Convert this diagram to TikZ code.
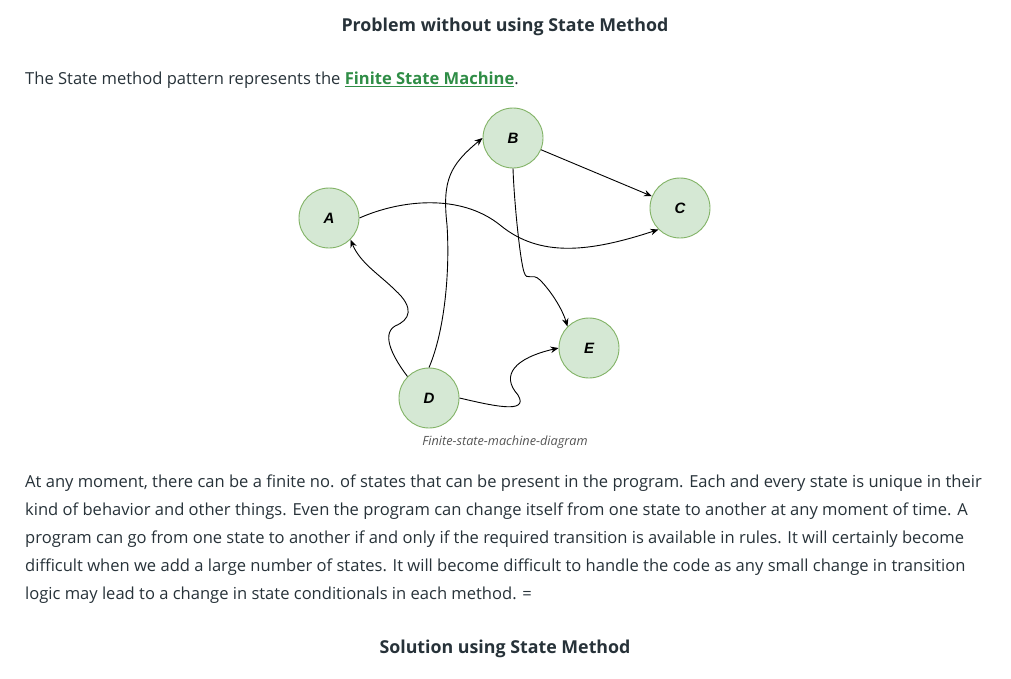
\documentclass[tikz,border=0pt]{standalone}
\usepackage{fontspec}
\setmainfont{Open Sans}
\setsansfont{Liberation Sans}
\usetikzlibrary{arrows.meta}
\definecolor{txt}{HTML}{273239}
\definecolor{lnk}{HTML}{2F8D46}
\definecolor{sfill}{HTML}{D5E8D4}
\definecolor{sdraw}{HTML}{82B366}
\definecolor{cap}{HTML}{555555}
\begin{document}
\begin{tikzpicture}[x=1pt,y=-1pt,
  statenode/.style={circle,draw=sdraw,fill=sfill,line width=0.9pt,minimum size=60pt,inner sep=0pt,
    font=\sffamily\bfseries\itshape\fontsize{15}{17}\selectfont},
  edge/.style={line width=0.9pt,-{Stealth[length=8pt,width=6.5pt]}},
  bodytext/.style={anchor=west,inner sep=0pt,text=txt,font=\fontsize{16.55}{19}\selectfont},
  headtext/.style={anchor=center,inner sep=0pt,text=txt,font=\bfseries\fontsize{17.8}{20}\selectfont}]
\useasboundingbox (0,0) rectangle (1011,678);
\fill[white] (0,0) rectangle (1011,678);
\node[headtext] (title) at (505,27) {Problem without using State Method};
\node[bodytext] (intro) at (25,80) {The State method pattern represents the \textcolor{lnk}{\bfseries\underline{Finite State Machine}}.};
\node[statenode] (A) at (329,218) {A};
\node[statenode] (B) at (513,138) {B};
\node[statenode] (C) at (680,208) {C};
\node[statenode] (D) at (429,398) {D};
\node[statenode] (E) at (589,348) {E};
\draw[edge] (B) -- (C);
\draw[edge] (A.east) .. controls (400,200) and (460,193) .. (500,225) .. controls (540,258) and (590,252) .. (C.south west);
\draw[edge] (B.south) .. controls (514,200) and (520,260) .. (524,272) .. controls (527,282) and (532,272) .. (540,280) .. controls (550,290) and (562,308) .. (E.north west);
\draw[edge] (D.north west) .. controls (395,360) and (380,335) .. (395,326) .. controls (410,320) and (415,308) .. (395,290) .. controls (380,275) and (360,263) .. (A.south east);
\draw[edge] (D.north) .. controls (445,330) and (450,270) .. (447,225) .. controls (442,180) and (450,165) .. (B.west);
\draw[edge] (D.east) .. controls (490,405) and (530,415) .. (518,395) .. controls (500,375) and (515,358) .. (E.west);
\node[font=\itshape\fontsize{12.7}{14}\selectfont,text=cap] (caption) at (505,442) {Finite-state-machine-diagram};
\node[bodytext] (l1) at (25,483) {At any moment, there can be a finite no. of states that can be present in the program. Each and every state is unique in their};
\node[bodytext] (l2) at (25,511) {kind of behavior and other things. Even the program can change itself from one state to another at any moment of time. A};
\node[bodytext] (l3) at (25,539) {program can go from one state to another if and only if the required transition is available in rules. It will certainly become};
\node[bodytext] (l4) at (25,567) {difficult when we add a large number of states. It will become difficult to handle the code as any small change in transition};
\node[bodytext] (l5) at (25,595) {logic may lead to a change in state conditionals in each method. =};
\node[headtext] (sol) at (505,649) {Solution using State Method};
\end{tikzpicture}
\end{document}
